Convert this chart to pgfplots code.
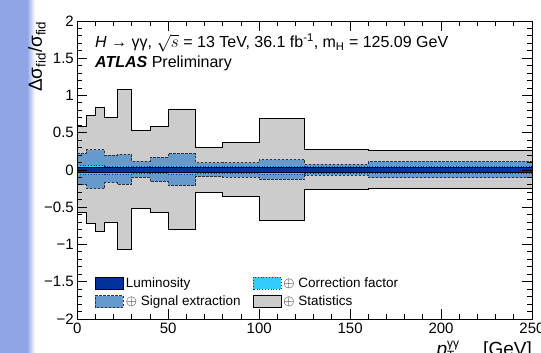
\documentclass[border=0pt]{standalone}
\usepackage{pgfplots}
\pgfplotsset{compat=1.18}
\usepackage{pgfplotstable}
\usepgfplotslibrary{fillbetween}
\usepackage{fontspec}
\setmainfont{Liberation Sans}

\definecolor{lumi}{RGB}{0,51,153}
\definecolor{sig}{RGB}{102,153,204}
\definecolor{corr}{RGB}{51,204,255}
\definecolor{stat}{RGB}{204,204,204}
\definecolor{side}{RGB}{143,166,230}

% bin lower edges; last row repeats last bin at x=250
\pgfplotstableread{
x up lo
0 0.59 -0.57
5 0.73 -0.72
10 0.84 -0.82
15 0.71 -0.70
22 1.08 -1.07
30 0.53 -0.52
40 0.59 -0.57
50 0.82 -0.80
65 0.31 -0.30
80 0.37 -0.36
100 0.69 -0.68
125 0.27 -0.26
160 0.26 -0.25
250 0.26 -0.25
}\stattab

\pgfplotstableread{
x up lo
0 0.22 -0.20
5 0.27 -0.25
10 0.27 -0.25
15 0.20 -0.17
22 0.21 -0.19
30 0.12 -0.10
40 0.17 -0.155
50 0.22 -0.21
65 0.10 -0.09
80 0.10 -0.10
100 0.14 -0.13
125 0.075 -0.068
160 0.11 -0.105
250 0.11 -0.105
}\sigtab

\pgfplotstableread{
x up lo
0 0.06 -0.06
5 0.06 -0.06
10 0.06 -0.06
15 0.055 -0.055
22 0.055 -0.055
30 0.05 -0.05
40 0.05 -0.05
50 0.055 -0.055
65 0.05 -0.05
80 0.05 -0.05
100 0.055 -0.055
125 0.05 -0.05
160 0.05 -0.05
250 0.05 -0.05
}\corrtab

\pgfplotstableread{
x up lo
0 0.034 -0.034
250 0.034 -0.034
}\lumitab

\begin{document}
\begin{tikzpicture}
\fill[side] (0pt,0pt) rectangle (27pt,353pt);
\shade[left color=side, right color=white] (27pt,0pt) rectangle (35pt,353pt);
\begin{axis}[
  at={(77.3pt,34pt)}, anchor=south west,
  width=454.7pt, height=298pt, scale only axis,
  xmin=0, xmax=250, ymin=-2, ymax=2,
  axis on top,
  axis line style={line width=0.9pt},
  tick style={line width=0.9pt, black},
  major tick length=10pt, minor tick length=5pt,
  xtick={0,50,100,150,200,250},
  xticklabels={0,50,100,150,200,250},
  minor x tick num=4,
  ytick={-2,-1.5,-1,-0.5,0,0.5,1,1.5,2},
  yticklabels={−2,−1.5,−1,−0.5,0,0.5,1,1.5,2},
  minor y tick num=4,
  tick label style={font=\fontsize{15}{15}\selectfont},
  legend columns=2,
  legend cell align=left,
  legend image code/.code={\draw[#1] (0pt,-6pt) rectangle (28pt,6pt);},
  legend style={draw=none, fill=none, font=\fontsize{13.5}{13.5}\selectfont,
    at={(0.032,0.025)}, anchor=south west,
    /tikz/every even column/.append style={column sep=10pt},
    row sep=3pt},
]
% named paths (invisible)
\addplot[const plot, draw=none, name path=stU, forget plot] table[x=x,y=up]{\stattab};
\addplot[const plot, draw=none, name path=stL, forget plot] table[x=x,y=lo]{\stattab};
\addplot[const plot, draw=none, name path=sgU, forget plot] table[x=x,y=up]{\sigtab};
\addplot[const plot, draw=none, name path=sgL, forget plot] table[x=x,y=lo]{\sigtab};
\addplot[const plot, draw=none, name path=cfU, forget plot] table[x=x,y=up]{\corrtab};
\addplot[const plot, draw=none, name path=cfL, forget plot] table[x=x,y=lo]{\corrtab};
\addplot[const plot, draw=none, name path=lmU, forget plot] table[x=x,y=up]{\lumitab};
\addplot[const plot, draw=none, name path=lmL, forget plot] table[x=x,y=lo]{\lumitab};
% statistics
\addplot[stat, forget plot] fill between[of=stU and stL];
\addplot[const plot, black, line width=0.8pt, forget plot] table[x=x,y=up]{\stattab};
\addplot[const plot, black, line width=0.8pt, forget plot] table[x=x,y=lo]{\stattab};
% signal extraction
\addplot[sig, forget plot] fill between[of=sgU and sgL];
\addplot[const plot, black!80, line width=0.8pt, dash pattern=on 2.5pt off 1.5pt, forget plot] table[x=x,y=up]{\sigtab};
\addplot[const plot, black!80, line width=0.8pt, dash pattern=on 2.5pt off 1.5pt, forget plot] table[x=x,y=lo]{\sigtab};
% correction factor
\addplot[corr, forget plot] fill between[of=cfU and cfL];
\addplot[const plot, lumi, line width=0.7pt, dotted, forget plot] table[x=x,y=up]{\corrtab};
\addplot[const plot, lumi, line width=0.7pt, dotted, forget plot] table[x=x,y=lo]{\corrtab};
% luminosity
\addplot[lumi, forget plot] fill between[of=lmU and lmL];
\addplot[const plot, black, line width=0.8pt, forget plot] table[x=x,y=up]{\lumitab};
\addplot[const plot, black, line width=0.8pt, forget plot] table[x=x,y=lo]{\lumitab};

\addlegendimage{fill=lumi, draw=black, line width=0.8pt}
\addlegendentry{Luminosity}
\addlegendimage{fill=corr, draw=lumi, dotted, line width=0.8pt}
\addlegendentry{$\oplus$ Correction factor}
\addlegendimage{fill=sig, draw=black!80, dash pattern=on 2.5pt off 1.5pt, line width=0.8pt}
\addlegendentry{$\oplus$ Signal extraction}
\addlegendimage{fill=stat, draw=black, line width=0.8pt}
\addlegendentry{$\oplus$ Statistics}
\end{axis}
\node[anchor=west, inner sep=0pt, font=\fontsize{16}{16}\selectfont] at (95pt,310pt)
  {\textit{H} → γγ, $\sqrt{s}$ = 13 TeV, 36.1 fb\textsuperscript{-1}, m\textsubscript{H} = 125.09 GeV};
\node[anchor=west, inner sep=0pt, font=\fontsize{16}{16}\selectfont] at (95pt,290pt)
  {\textbf{\textit{ATLAS}} Preliminary};
\node[rotate=90, anchor=east, inner sep=0pt, font=\fontsize{19}{19}\selectfont] at (37pt,332pt)
  {Δσ\textsubscript{fid}/σ\textsubscript{fid}};
\node[anchor=base east, inner sep=0pt, font=\fontsize{19}{19}\selectfont] at (532pt,-3pt)
  {\textit{p}\rlap{$_{\mbox{\fontsize{12}{12}\selectfont T}}^{\mbox{\fontsize{12}{12}\selectfont γγ}}$}\hspace{36pt}[GeV]};
\pgfresetboundingbox
\path[use as bounding box] (0pt,0pt) rectangle (541pt,353pt);
\end{tikzpicture}
\end{document}
